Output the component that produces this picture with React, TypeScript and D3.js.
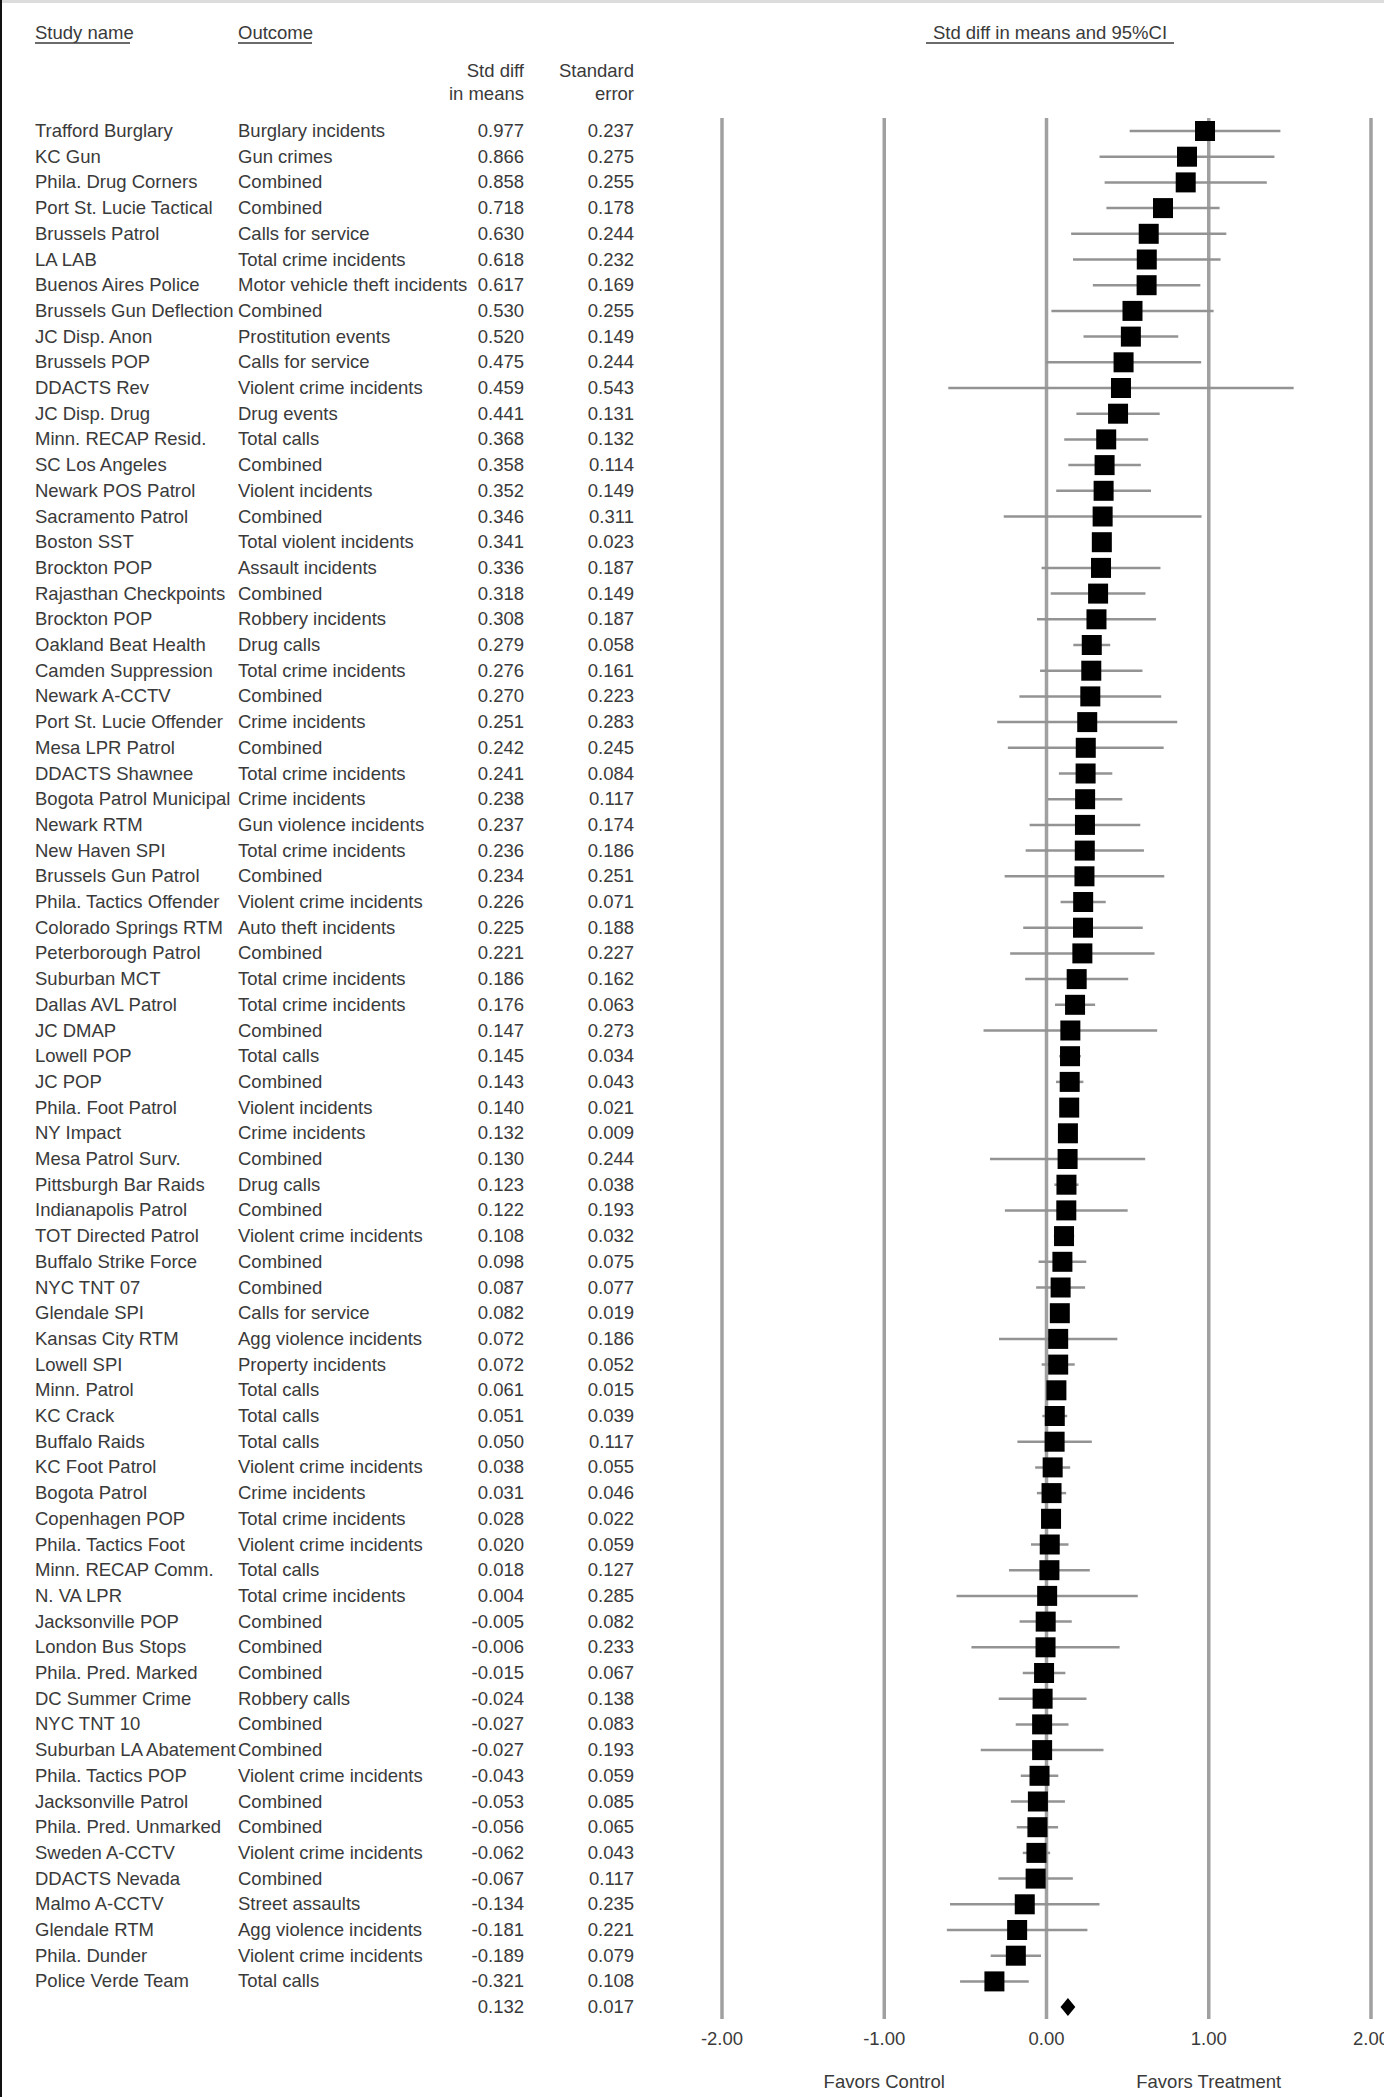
import React from "react"
import * as d3 from "d3"

const studyNames = [
  "Trafford Burglary", "KC Gun", "Phila. Drug Corners", "Port St. Lucie Tactical", "Brussels Patrol",
  "LA LAB", "Buenos Aires Police", "Brussels Gun Deflection", "JC Disp. Anon", "Brussels POP",
  "DDACTS Rev", "JC Disp. Drug", "Minn. RECAP Resid.", "SC Los Angeles", "Newark POS Patrol",
  "Sacramento Patrol", "Boston SST", "Brockton POP", "Rajasthan Checkpoints", "Brockton POP",
  "Oakland Beat Health", "Camden Suppression", "Newark A-CCTV", "Port St. Lucie Offender", "Mesa LPR Patrol",
  "DDACTS Shawnee", "Bogota Patrol Municipal", "Newark RTM", "New Haven SPI", "Brussels Gun Patrol",
  "Phila. Tactics Offender", "Colorado Springs RTM", "Peterborough Patrol", "Suburban MCT", "Dallas AVL Patrol",
  "JC DMAP", "Lowell POP", "JC POP", "Phila. Foot Patrol", "NY Impact",
  "Mesa Patrol Surv.", "Pittsburgh Bar Raids", "Indianapolis Patrol", "TOT Directed Patrol", "Buffalo Strike Force",
  "NYC TNT 07", "Glendale SPI", "Kansas City RTM", "Lowell SPI", "Minn. Patrol",
  "KC Crack", "Buffalo Raids", "KC Foot Patrol", "Bogota Patrol", "Copenhagen POP",
  "Phila. Tactics Foot", "Minn. RECAP Comm.", "N. VA LPR", "Jacksonville POP", "London Bus Stops",
  "Phila. Pred. Marked", "DC Summer Crime", "NYC TNT 10", "Suburban LA Abatement", "Phila. Tactics POP",
  "Jacksonville Patrol", "Phila. Pred. Unmarked", "Sweden A-CCTV", "DDACTS Nevada", "Malmo A-CCTV",
  "Glendale RTM", "Phila. Dunder", "Police Verde Team",
]

const outcomes = [
  "Burglary incidents", "Gun crimes", "Combined", "Combined", "Calls for service",
  "Total crime incidents", "Motor vehicle theft incidents", "Combined", "Prostitution events", "Calls for service",
  "Violent crime incidents", "Drug events", "Total calls", "Combined", "Violent incidents",
  "Combined", "Total violent incidents", "Assault incidents", "Combined", "Robbery incidents",
  "Drug calls", "Total crime incidents", "Combined", "Crime incidents", "Combined",
  "Total crime incidents", "Crime incidents", "Gun violence incidents", "Total crime incidents", "Combined",
  "Violent crime incidents", "Auto theft incidents", "Combined", "Total crime incidents", "Total crime incidents",
  "Combined", "Total calls", "Combined", "Violent incidents", "Crime incidents",
  "Combined", "Drug calls", "Combined", "Violent crime incidents", "Combined",
  "Combined", "Calls for service", "Agg violence incidents", "Property incidents", "Total calls",
  "Total calls", "Total calls", "Violent crime incidents", "Crime incidents", "Total crime incidents",
  "Violent crime incidents", "Total calls", "Total crime incidents", "Combined", "Combined",
  "Combined", "Robbery calls", "Combined", "Combined", "Violent crime incidents",
  "Combined", "Combined", "Violent crime incidents", "Combined", "Street assaults",
  "Agg violence incidents", "Violent crime incidents", "Total calls",
]

const stdDiff = [
  0.977, 0.866, 0.858, 0.718, 0.630, 0.618, 0.617, 0.530, 0.520, 0.475,
  0.459, 0.441, 0.368, 0.358, 0.352, 0.346, 0.341, 0.336, 0.318, 0.308,
  0.279, 0.276, 0.270, 0.251, 0.242, 0.241, 0.238, 0.237, 0.236, 0.234,
  0.226, 0.225, 0.221, 0.186, 0.176, 0.147, 0.145, 0.143, 0.140, 0.132,
  0.130, 0.123, 0.122, 0.108, 0.098, 0.087, 0.082, 0.072, 0.072, 0.061,
  0.051, 0.050, 0.038, 0.031, 0.028, 0.020, 0.018, 0.004, -0.005, -0.006,
  -0.015, -0.024, -0.027, -0.027, -0.043, -0.053, -0.056, -0.062, -0.067, -0.134,
  -0.181, -0.189, -0.321,
]

const stdErr = [
  0.237, 0.275, 0.255, 0.178, 0.244, 0.232, 0.169, 0.255, 0.149, 0.244,
  0.543, 0.131, 0.132, 0.114, 0.149, 0.311, 0.023, 0.187, 0.149, 0.187,
  0.058, 0.161, 0.223, 0.283, 0.245, 0.084, 0.117, 0.174, 0.186, 0.251,
  0.071, 0.188, 0.227, 0.162, 0.063, 0.273, 0.034, 0.043, 0.021, 0.009,
  0.244, 0.038, 0.193, 0.032, 0.075, 0.077, 0.019, 0.186, 0.052, 0.015,
  0.039, 0.117, 0.055, 0.046, 0.022, 0.059, 0.127, 0.285, 0.082, 0.233,
  0.067, 0.138, 0.083, 0.193, 0.059, 0.085, 0.065, 0.043, 0.117, 0.235,
  0.221, 0.079, 0.108,
]

const summaryDiff = 0.132
const summaryErr = 0.017

const xTicks = [-2, -1, 0, 1, 2]

const font = "'Liberation Sans', Arial, sans-serif"
const textColor = "#3a3a3a"

export default function App() {
  const width = 1384
  const height = 2097
  const rowTop = 131
  const rowStep = 25.7

  const x = d3.scaleLinear().domain([-2, 2]).range([722, 1371])
  const y = d3
    .scaleLinear()
    .domain([0, studyNames.length])
    .range([rowTop, rowTop + rowStep * studyNames.length])

  const box = 20
  const fs = 18.5

  const sumY = y(studyNames.length)
  const sumLo = x(summaryDiff - 1.96 * summaryErr)
  const sumHi = x(summaryDiff + 1.96 * summaryErr)
  const sumX = x(summaryDiff)

  return (
    <div>
      <style>{`body{margin:0}`}</style>
      <svg width={width} height={height} style={{ display: "block", background: "#fff" }} fontFamily={font}>
        <rect x={0} y={0} width={width} height={3} fill="#dcdcdc" />
        <rect x={0} y={0} width={2} height={height} fill="#111" />

        {/* headers */}
        <g fill={textColor} fontSize={fs}>
          <text x={35} y={39}>Study name</text>
          <line x1={35} x2={130} y1={43} y2={43} stroke={textColor} strokeWidth={1.5} />
          <text x={238} y={39}>Outcome</text>
          <line x1={238} x2={312} y1={43} y2={43} stroke={textColor} strokeWidth={1.5} />
          <text x={524} y={77} textAnchor="end">Std diff</text>
          <text x={524} y={100} textAnchor="end">in means</text>
          <text x={634} y={77} textAnchor="end">Standard</text>
          <text x={634} y={100} textAnchor="end">error</text>
          <text x={1050} y={39} textAnchor="middle">Std diff in means and 95%CI</text>
          <line x1={926} x2={1174} y1={43} y2={43} stroke={textColor} strokeWidth={1.5} />
        </g>

        {/* reference lines */}
        {xTicks.map((t) => (
          <g key={t}>
            <line x1={x(t)} x2={x(t)} y1={118} y2={2019} stroke="#a0a0a0" strokeWidth={3.5} />
            <text x={x(t)} y={2045} textAnchor="middle" fontSize={fs} fill={textColor}>
              {t.toFixed(2)}
            </text>
          </g>
        ))}
        <text x={x(-1)} y={2088} textAnchor="middle" fontSize={fs} fill={textColor}>Favors Control</text>
        <text x={x(1)} y={2088} textAnchor="middle" fontSize={fs} fill={textColor}>Favors Treatment</text>

        {/* rows */}
        {studyNames.map((name, i) => {
          const cy = y(i)
          const est = stdDiff[i]
          const se = stdErr[i]
          return (
            <g key={i}>
              <text x={35} y={cy + 6} fontSize={fs} fill={textColor}>{name}</text>
              <text x={238} y={cy + 6} fontSize={fs} fill={textColor}>{outcomes[i]}</text>
              <text x={524} y={cy + 6} fontSize={fs} fill={textColor} textAnchor="end">{est.toFixed(3)}</text>
              <text x={634} y={cy + 6} fontSize={fs} fill={textColor} textAnchor="end">{se.toFixed(3)}</text>
              <line
                x1={x(est - 1.96 * se)}
                x2={x(est + 1.96 * se)}
                y1={cy}
                y2={cy}
                stroke="#939393"
                strokeWidth={2.5}
              />
              <rect x={x(est) - box / 2} y={cy - box / 2} width={box} height={box} fill="#000" />
            </g>
          )
        })}

        {/* summary */}
        <g>
          <text x={524} y={sumY + 6} fontSize={fs} fill={textColor} textAnchor="end">{summaryDiff.toFixed(3)}</text>
          <text x={634} y={sumY + 6} fontSize={fs} fill={textColor} textAnchor="end">{summaryErr.toFixed(3)}</text>
          <path
            d={`M${sumLo - 2},${sumY} L${sumX},${sumY - 9} L${sumHi + 2},${sumY} L${sumX},${sumY + 9} Z`}
            fill="#000"
          />
        </g>
      </svg>
    </div>
  )
}
